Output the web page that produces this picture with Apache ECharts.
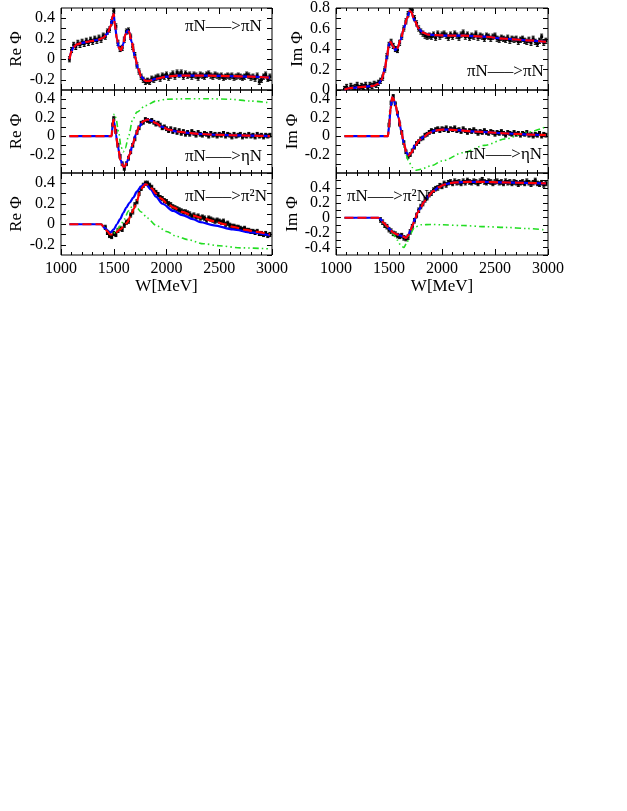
<!DOCTYPE html>
<html><head><meta charset="utf-8">
<script src="https://cdn.jsdelivr.net/npm/echarts@6/dist/echarts.min.js"></script>
<style>html,body{margin:0;padding:0;background:#fff}#c{width:627px;height:811px}</style>
</head><body><div id="c"></div>
<script>
// ---------- data (W in MeV, values) ----------
const xTicks = [1000, 1500, 2000, 2500, 3000];
// data points [W, value]
const ptsL1 = [[1080,0.0],[1100,0.09],[1120,0.14],[1140,0.12],[1160,0.16],[1180,0.14],[1200,0.17],[1220,0.15],[1240,0.18],[1260,0.16],[1280,0.19],[1300,0.17],[1320,0.2],[1340,0.18],[1360,0.21],[1380,0.19],[1400,0.23],[1420,0.22],[1440,0.27],[1460,0.29],[1480,0.36],[1500,0.47],[1520,0.32],[1540,0.16],[1560,0.1],[1580,0.11],[1600,0.19],[1620,0.27],[1640,0.28],[1660,0.22],[1680,0.12],[1700,0.04],[1720,-0.06],[1740,-0.12],[1760,-0.17],[1780,-0.2],[1800,-0.22],[1820,-0.21],[1840,-0.22],[1860,-0.19],[1880,-0.2],[1900,-0.18],[1920,-0.17],[1940,-0.19],[1960,-0.16],[1980,-0.17],[2000,-0.15],[2020,-0.18],[2040,-0.16],[2060,-0.14],[2080,-0.17],[2100,-0.13],[2120,-0.15],[2140,-0.13],[2160,-0.17],[2180,-0.14],[2200,-0.16],[2220,-0.15],[2240,-0.17],[2260,-0.15],[2280,-0.16],[2300,-0.18],[2320,-0.15],[2340,-0.16],[2360,-0.17],[2380,-0.15],[2400,-0.14],[2420,-0.16],[2440,-0.17],[2460,-0.15],[2480,-0.16],[2500,-0.17],[2520,-0.16],[2540,-0.18],[2560,-0.17],[2580,-0.16],[2600,-0.17],[2620,-0.16],[2640,-0.18],[2660,-0.17],[2680,-0.16],[2700,-0.17],[2720,-0.18],[2740,-0.17],[2760,-0.15],[2780,-0.16],[2800,-0.18],[2820,-0.17],[2840,-0.19],[2860,-0.16],[2880,-0.22],[2900,-0.2],[2920,-0.17],[2940,-0.15],[2960,-0.19],[2980,-0.17]];
const ptsR1 = [[1080,0.01],[1100,0.03],[1120,0.0],[1140,0.04],[1160,0.02],[1180,0.03],[1200,0.05],[1220,0.02],[1240,0.04],[1260,0.03],[1280,0.05],[1300,0.02],[1320,0.05],[1340,0.04],[1360,0.06],[1380,0.05],[1400,0.07],[1420,0.09],[1440,0.12],[1460,0.2],[1480,0.33],[1500,0.44],[1520,0.47],[1540,0.43],[1560,0.4],[1580,0.39],[1600,0.46],[1620,0.52],[1640,0.6],[1660,0.67],[1680,0.74],[1700,0.8],[1720,0.78],[1740,0.7],[1760,0.65],[1780,0.6],[1800,0.57],[1820,0.55],[1840,0.53],[1860,0.52],[1880,0.53],[1900,0.52],[1920,0.54],[1940,0.51],[1960,0.55],[1980,0.52],[2000,0.54],[2020,0.55],[2040,0.53],[2060,0.51],[2080,0.54],[2100,0.52],[2120,0.55],[2140,0.53],[2160,0.51],[2180,0.54],[2200,0.56],[2220,0.52],[2240,0.54],[2260,0.51],[2280,0.53],[2300,0.52],[2320,0.55],[2340,0.51],[2360,0.53],[2380,0.52],[2400,0.5],[2420,0.53],[2440,0.52],[2460,0.5],[2480,0.52],[2500,0.53],[2520,0.5],[2540,0.49],[2560,0.51],[2580,0.5],[2600,0.49],[2620,0.51],[2640,0.48],[2660,0.5],[2680,0.49],[2700,0.5],[2720,0.47],[2740,0.49],[2760,0.5],[2780,0.48],[2800,0.47],[2820,0.49],[2840,0.46],[2860,0.5],[2880,0.47],[2900,0.45],[2920,0.48],[2940,0.52],[2960,0.46],[2980,0.48]];
const ptsL2 = [[1490,0.12],[1500,0.19],[1520,0.05],[1540,-0.1],[1560,-0.22],[1580,-0.3],[1600,-0.35],[1620,-0.3],[1640,-0.24],[1660,-0.17],[1680,-0.1],[1700,-0.03],[1720,0.04],[1740,0.09],[1760,0.14],[1780,0.15],[1800,0.18],[1820,0.17],[1840,0.16],[1860,0.17],[1880,0.15],[1900,0.13],[1920,0.14],[1940,0.12],[1960,0.09],[1980,0.1],[2000,0.08],[2020,0.06],[2040,0.08],[2060,0.05],[2080,0.07],[2100,0.04],[2120,0.06],[2140,0.03],[2160,0.05],[2180,0.02],[2200,0.04],[2220,0.02],[2240,0.05],[2260,0.03],[2280,0.01],[2300,0.04],[2320,0.02],[2340,0.01],[2360,0.03],[2380,0.02],[2400,0.0],[2420,0.03],[2440,0.01],[2460,0.02],[2480,0.0],[2500,0.02],[2520,0.01],[2540,0.03],[2560,0.0],[2580,0.02],[2600,0.01],[2620,-0.01],[2640,0.02],[2660,0.0],[2680,0.01],[2700,0.02],[2720,-0.01],[2740,0.01],[2760,0.0],[2780,0.02],[2800,0.0],[2820,0.01],[2840,-0.01],[2860,0.02],[2880,0.0],[2900,0.01],[2920,-0.01],[2940,0.01],[2960,0.0],[2980,0.01]];
const ptsR2 = [[1500,0.12],[1520,0.36],[1540,0.43],[1560,0.35],[1580,0.25],[1600,0.13],[1620,0.04],[1640,-0.07],[1660,-0.17],[1680,-0.22],[1700,-0.2],[1720,-0.16],[1740,-0.12],[1760,-0.08],[1780,-0.06],[1800,-0.03],[1820,-0.02],[1840,0.01],[1860,0.02],[1880,0.04],[1900,0.06],[1920,0.05],[1940,0.07],[1960,0.08],[1980,0.06],[2000,0.08],[2020,0.07],[2040,0.09],[2060,0.06],[2080,0.08],[2100,0.07],[2120,0.09],[2140,0.06],[2160,0.07],[2180,0.05],[2200,0.08],[2220,0.06],[2240,0.04],[2260,0.06],[2280,0.05],[2300,0.07],[2320,0.05],[2340,0.03],[2360,0.05],[2380,0.04],[2400,0.06],[2420,0.04],[2440,0.03],[2460,0.05],[2480,0.04],[2500,0.02],[2520,0.04],[2540,0.03],[2560,0.05],[2580,0.03],[2600,0.01],[2620,0.04],[2640,0.03],[2660,0.02],[2680,0.04],[2700,0.02],[2720,0.03],[2740,0.01],[2760,0.03],[2780,0.02],[2800,0.04],[2820,0.01],[2840,0.02],[2860,0.0],[2880,0.02],[2900,0.01],[2920,0.03],[2940,0.0],[2960,0.02],[2980,0.01]];
const ptsL3 = [[1420,-0.03],[1440,-0.08],[1460,-0.11],[1480,-0.12],[1500,-0.09],[1520,-0.1],[1540,-0.06],[1560,-0.04],[1580,-0.05],[1600,-0.01],[1620,0.02],[1640,0.03],[1660,0.09],[1680,0.12],[1700,0.19],[1720,0.22],[1740,0.3],[1760,0.35],[1780,0.38],[1800,0.4],[1820,0.4],[1840,0.38],[1860,0.36],[1880,0.33],[1900,0.31],[1920,0.29],[1940,0.26],[1960,0.25],[1980,0.23],[2000,0.22],[2020,0.2],[2040,0.19],[2060,0.17],[2080,0.16],[2100,0.15],[2120,0.14],[2140,0.13],[2160,0.12],[2180,0.12],[2200,0.11],[2220,0.1],[2240,0.08],[2260,0.09],[2280,0.07],[2300,0.08],[2320,0.06],[2340,0.07],[2360,0.06],[2380,0.04],[2400,0.06],[2420,0.05],[2440,0.04],[2460,0.03],[2480,0.04],[2500,0.03],[2520,0.02],[2540,0.03],[2560,0.0],[2580,0.01],[2600,-0.01],[2620,-0.02],[2640,-0.02],[2660,-0.03],[2680,-0.03],[2700,-0.04],[2720,-0.05],[2740,-0.04],[2760,-0.06],[2780,-0.06],[2800,-0.07],[2820,-0.07],[2840,-0.08],[2860,-0.07],[2880,-0.09],[2900,-0.09],[2920,-0.1],[2940,-0.09],[2960,-0.11],[2980,-0.1]];
const ptsR3 = [[1420,-0.03],[1440,-0.06],[1460,-0.1],[1480,-0.12],[1500,-0.16],[1520,-0.18],[1540,-0.21],[1560,-0.22],[1580,-0.24],[1600,-0.25],[1620,-0.24],[1640,-0.27],[1660,-0.28],[1680,-0.26],[1700,-0.19],[1720,-0.12],[1740,-0.04],[1760,0.03],[1780,0.1],[1800,0.15],[1820,0.19],[1840,0.24],[1860,0.27],[1880,0.31],[1900,0.33],[1920,0.37],[1940,0.39],[1960,0.4],[1980,0.43],[2000,0.42],[2020,0.46],[2040,0.44],[2060,0.47],[2080,0.48],[2100,0.46],[2120,0.49],[2140,0.47],[2160,0.48],[2180,0.46],[2200,0.49],[2220,0.47],[2240,0.5],[2260,0.48],[2280,0.47],[2300,0.49],[2320,0.48],[2340,0.46],[2360,0.49],[2380,0.51],[2400,0.48],[2420,0.47],[2440,0.49],[2460,0.48],[2480,0.46],[2500,0.48],[2520,0.49],[2540,0.47],[2560,0.48],[2580,0.46],[2600,0.49],[2620,0.47],[2640,0.48],[2660,0.46],[2680,0.48],[2700,0.47],[2720,0.45],[2740,0.47],[2760,0.48],[2780,0.46],[2800,0.49],[2820,0.47],[2840,0.45],[2860,0.47],[2880,0.5],[2900,0.46],[2920,0.45],[2940,0.47],[2960,0.44],[2980,0.46]];

// model curves [W, value]
const fitL1 = [[1080,0.0],[1100,0.08],[1120,0.12],[1150,0.145],[1200,0.16],[1250,0.17],[1300,0.18],[1350,0.19],[1400,0.21],[1440,0.25],[1470,0.32],[1490,0.42],[1500,0.44],[1510,0.34],[1530,0.2],[1550,0.11],[1570,0.09],[1590,0.15],[1610,0.24],[1630,0.28],[1645,0.27],[1670,0.17],[1700,0.03],[1730,-0.09],[1760,-0.17],[1800,-0.21],[1840,-0.21],[1900,-0.19],[2000,-0.17],[2100,-0.16],[2200,-0.16],[2400,-0.16],[2600,-0.165],[2800,-0.17],[2980,-0.18]];
const fitR1 = [[1080,0.005],[1150,0.02],[1250,0.03],[1350,0.04],[1400,0.06],[1430,0.1],[1460,0.2],[1480,0.32],[1500,0.45],[1515,0.47],[1535,0.43],[1560,0.39],[1580,0.41],[1610,0.49],[1640,0.6],[1670,0.7],[1695,0.77],[1710,0.76],[1740,0.68],[1780,0.6],[1820,0.56],[1870,0.54],[1950,0.535],[2050,0.53],[2200,0.53],[2400,0.52],[2600,0.5],[2800,0.485],[2980,0.47]];
const fitL2 = [[1080,0],[1480,0],[1488,0.1],[1496,0.18],[1505,0.15],[1520,0.02],[1540,-0.12],[1565,-0.26],[1590,-0.33],[1605,-0.33],[1625,-0.28],[1650,-0.2],[1680,-0.09],[1710,0.02],[1740,0.1],[1780,0.16],[1820,0.18],[1860,0.165],[1900,0.14],[1960,0.1],[2020,0.07],[2100,0.05],[2200,0.035],[2300,0.025],[2450,0.015],[2600,0.01],[2800,0.005],[2980,0.0]];
const altL2 = [[1080,0],[1480,0],[1490,0.1],[1505,0.24],[1520,0.2],[1545,0.05],[1570,-0.12],[1590,-0.17],[1610,-0.13],[1640,0.0],[1680,0.18],[1720,0.26],[1800,0.33],[1900,0.38],[2000,0.4],[2200,0.405],[2400,0.405],[2600,0.4],[2800,0.38],[2980,0.36]];
const fitR2 = [[1080,0],[1490,0],[1500,0.1],[1515,0.3],[1530,0.42],[1540,0.41],[1560,0.34],[1590,0.2],[1615,0.06],[1640,-0.08],[1665,-0.18],[1685,-0.21],[1710,-0.18],[1745,-0.1],[1790,-0.04],[1830,-0.005],[1880,0.035],[1930,0.06],[2000,0.07],[2050,0.07],[2150,0.065],[2300,0.05],[2450,0.04],[2550,0.033],[2700,0.024],[2860,0.015],[2980,0.01]];
const altR2 = [[1080,0],[1490,0],[1510,0.3],[1535,0.43],[1560,0.35],[1590,0.2],[1620,0.02],[1650,-0.15],[1680,-0.26],[1720,-0.34],[1760,-0.37],[1800,-0.36],[1900,-0.32],[2000,-0.27],[2200,-0.18],[2400,-0.1],[2600,-0.03],[2800,0.04],[2980,0.1]];
const fitL3 = [[1080,0],[1380,0],[1410,-0.03],[1440,-0.07],[1465,-0.1],[1490,-0.1],[1520,-0.08],[1560,-0.05],[1600,-0.02],[1630,0.02],[1660,0.08],[1690,0.15],[1720,0.23],[1750,0.32],[1780,0.37],[1800,0.39],[1820,0.385],[1860,0.35],[1900,0.3],[1950,0.25],[2000,0.21],[2065,0.165],[2150,0.12],[2250,0.085],[2320,0.065],[2450,0.03],[2550,0.0],[2630,-0.025],[2750,-0.055],[2850,-0.075],[2980,-0.1]];
const fit2L3 = [[1080,0],[1380,0],[1420,-0.04],[1450,-0.07],[1470,-0.08],[1500,-0.05],[1530,0.0],[1560,0.05],[1590,0.11],[1620,0.165],[1650,0.21],[1685,0.26],[1720,0.32],[1760,0.37],[1790,0.39],[1810,0.385],[1850,0.34],[1900,0.27],[1960,0.2],[2065,0.13],[2150,0.09],[2250,0.05],[2320,0.02],[2450,-0.01],[2630,-0.05],[2800,-0.08],[2980,-0.11]];
const altL3 = [[1080,0],[1390,0],[1430,-0.05],[1470,-0.1],[1520,-0.08],[1560,-0.02],[1600,0.05],[1640,0.13],[1680,0.18],[1710,0.17],[1760,0.12],[1820,0.06],[1900,-0.01],[2000,-0.07],[2100,-0.12],[2200,-0.15],[2350,-0.19],[2500,-0.21],[2700,-0.23],[2980,-0.24]];
const fitR3 = [[1080,0],[1400,0],[1420,-0.02],[1450,-0.07],[1480,-0.11],[1510,-0.16],[1540,-0.2],[1570,-0.22],[1600,-0.235],[1630,-0.25],[1660,-0.27],[1680,-0.24],[1700,-0.18],[1720,-0.11],[1745,-0.02],[1770,0.07],[1800,0.14],[1830,0.21],[1870,0.29],[1920,0.36],[1970,0.41],[2020,0.445],[2080,0.465],[2140,0.475],[2250,0.48],[2400,0.48],[2550,0.475],[2700,0.47],[2850,0.465],[2980,0.46]];
const altR3 = [[1080,0],[1400,0],[1480,-0.12],[1540,-0.22],[1580,-0.3],[1610,-0.37],[1640,-0.4],[1670,-0.33],[1700,-0.22],[1740,-0.13],[1800,-0.095],[1900,-0.09],[2000,-0.095],[2200,-0.105],[2400,-0.12],[2600,-0.13],[2800,-0.145],[2980,-0.165]];

// ---------- layout ----------
const FONT = 'Liberation Serif';
const panels = [
  {left:61, top:8,   width:211, height:82, ymin:-0.3, ymax:0.5, yint:0.1, name:'Re \u03A6', gap:36, pts:ptsL1, err:0.025, red:fitL1, blue:fitL1, green:null, label:'\u03C0N\u2014\u2013>\u03C0N', lx:185, ly:27, xlab:false, showMin:false, showMax:false},
  {left:336,top:8,   width:212, height:82, ymin:0,    ymax:0.8, yint:0.2, name:'Im \u03A6', gap:28, pts:ptsR1, err:0.025, red:fitR1, blue:fitR1, green:null, label:'\u03C0N\u2014\u2013>\u03C0N', lx:467, ly:72, xlab:false, showMin:true, showMax:true},
  {left:61, top:90,  width:211, height:83, ymin:-0.4, ymax:0.5, yint:0.1, name:'Re \u03A6', gap:36, pts:ptsL2, err:0.02, red:fitL2, blue:fitL2, green:altL2, label:'\u03C0N\u2014\u2013>\u03B7N', lx:185, ly:157, xlab:false, showMin:false, showMax:false},
  {left:336,top:90,  width:212, height:83, ymin:-0.4, ymax:0.5, yint:0.1, name:'Im \u03A6', gap:28, pts:ptsR2, err:0.02, red:fitR2, blue:fitR2, green:altR2, label:'\u03C0N\u2014\u2013>\u03B7N', lx:465, ly:155, xlab:false, showMin:false, showMax:false},
  {left:61, top:173, width:211, height:82, ymin:-0.3, ymax:0.5, yint:0.1, name:'Re \u03A6', gap:36, pts:ptsL3, err:0.02, red:fitL3, blue:fit2L3, green:altL3, label:'\u03C0N\u2014\u2013>\u03C0\u00B2N', lx:185, ly:197, xlab:true, showMin:false, showMax:false},
  {left:336,top:173, width:212, height:82, ymin:-0.5, ymax:0.6, yint:0.1, name:'Im \u03A6', gap:28, pts:ptsR3, err:0.03, red:fitR3, blue:fitR3, green:altR3, label:'\u03C0N\u2014\u2013>\u03C0\u00B2N', lx:347, ly:197, xlab:true, showMin:false, showMax:false}
];

function yFmt(v){
  const k = Math.round(v*10);
  if (k % 2 !== 0) return '';
  if (k === 0) return '0';
  return (k/10).toFixed(1);
}

const grid=[], xAxis=[], yAxis=[], series=[], graphic=[];
panels.forEach((p,i)=>{
  grid.push({left:p.left, top:p.top, width:p.width, height:p.height, show:true, borderColor:'#000', borderWidth:1, backgroundColor:'transparent'});
  const xBase = {type:'value', gridIndex:i, min:xTicks[0], max:xTicks[xTicks.length-1], interval:500,
    splitLine:{show:false}, axisLine:{show:false, onZero:false},
    axisTick:{show:true, inside:true, length:6, lineStyle:{color:'#000'}},
    minorTick:{show:true, splitNumber:5, length:3, lineStyle:{color:'#000'}}};
  xAxis.push(Object.assign({}, xBase, {position:'bottom',
    axisLabel:{show:p.xlab, color:'#000', fontFamily:FONT, fontSize:16, margin:6, formatter:function(v){return String(v);}},
    name: p.xlab ? 'W[MeV]' : '', nameLocation:'middle', nameGap:22,
    nameTextStyle:{color:'#000', fontFamily:FONT, fontSize:17}}));
  xAxis.push(Object.assign({}, xBase, {position:'top', axisLabel:{show:false}}));
  const yBase = {type:'value', gridIndex:i, min:p.ymin, max:p.ymax, interval:p.yint,
    splitLine:{show:false}, axisLine:{show:false, onZero:false},
    axisTick:{show:true, inside:true, length:5, lineStyle:{color:'#000'}},
    minorTick: p.yint===0.2 ? {show:true, splitNumber:2, length:5, lineStyle:{color:'#000'}} : {show:false}};
  yAxis.push(Object.assign({}, yBase, {position:'left',
    axisLabel:{show:true, color:'#000', fontFamily:FONT, fontSize:16, margin:6, formatter:yFmt,
      showMinLabel:p.showMin, showMaxLabel:p.showMax},
    name:p.name, nameLocation:'middle', nameGap:p.gap, nameRotate:90,
    nameTextStyle:{color:'#000', fontFamily:FONT, fontSize:17}}));
  yAxis.push(Object.assign({}, yBase, {position:'right', axisLabel:{show:false}}));

  const err = p.err;
  series.push({type:'custom', xAxisIndex:2*i, yAxisIndex:2*i, clip:true, z:2,
    encode:{x:0, y:1}, data:p.pts,
    renderItem:function(params, api){
      const w=api.value(0), v=api.value(1);
      const c=api.coord([w,v]), t=api.coord([w,v+err]), b=api.coord([w,v-err]);
      const st={stroke:'#000', lineWidth:1};
      return {type:'group', children:[
        {type:'line', shape:{x1:c[0],y1:t[1],x2:c[0],y2:b[1]}, style:st},
        {type:'line', shape:{x1:c[0]-1.5,y1:t[1],x2:c[0]+1.5,y2:t[1]}, style:st},
        {type:'line', shape:{x1:c[0]-1.5,y1:b[1],x2:c[0]+1.5,y2:b[1]}, style:st},
        {type:'rect', shape:{x:c[0]-1.5,y:c[1]-1.5,width:3,height:3}, style:{fill:'#000'}}
      ]};
    }});
  if (p.green) series.push({type:'line', xAxisIndex:2*i, yAxisIndex:2*i, data:p.green, showSymbol:false, symbol:'none', smooth:0.3, smoothMonotone:'x', z:3,
    lineStyle:{color:'#22dd22', width:1.6, type:[6,3,1.5,3,1.5,3]}});
  series.push({type:'line', xAxisIndex:2*i, yAxisIndex:2*i, data:p.blue, showSymbol:false, symbol:'none', smooth:0.3, smoothMonotone:'x', z:4,
    lineStyle:{color:'#0000ff', width:2.2, type:'solid'}});
  series.push({type:'line', xAxisIndex:2*i, yAxisIndex:2*i, data:p.red, showSymbol:false, symbol:'none', smooth:0.3, smoothMonotone:'x', z:5,
    lineStyle:{color:'#ff0000', width:2.2, type:[9,4]}});
  graphic.push({type:'text', x:p.lx, y:p.ly, z:10, style:{text:p.label, font:'17px "Liberation Serif"', fill:'#000', verticalAlign:'middle', align:'left'}});
});

const chart = echarts.init(document.getElementById('c'), null, {renderer:'canvas'});
chart.setOption({backgroundColor:'#fff', animation:false, grid, xAxis, yAxis, series, graphic});
</script></body></html>
